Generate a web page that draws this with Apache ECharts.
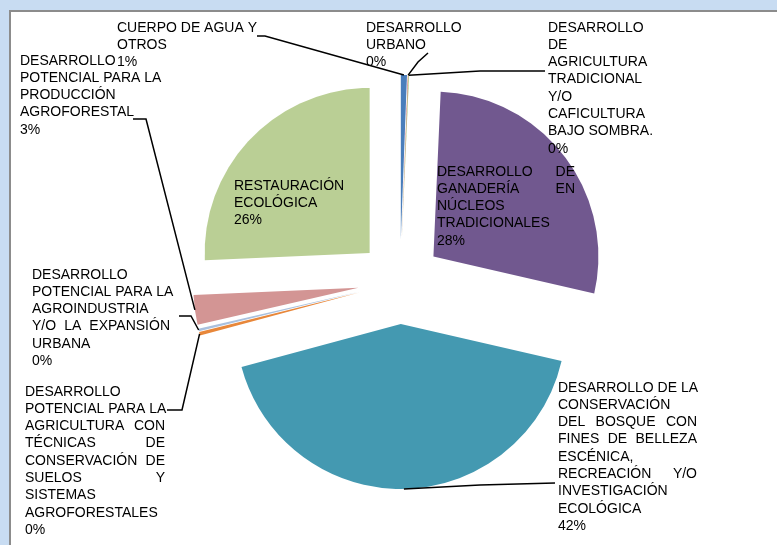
<!DOCTYPE html>
<html><head><meta charset="utf-8">
<script src="https://cdn.jsdelivr.net/npm/echarts@6/dist/echarts.min.js"></script>
<style>html,body{margin:0;padding:0;background:#C8DCF2;}#c{width:777px;height:545px;}</style>
</head><body><div id="c"></div>
<script>
// ---- data ----
const categories = [
  'CUERPO DE AGUA Y\nOTROS',
  'DESARROLLO\nURBANO',
  'DESARROLLO\nDE\nAGRICULTURA\nTRADICIONAL\nY/O\nCAFICULTURA\nBAJO SOMBRA.',
  'DESARROLLO DE\nGANADERÍA EN\nNÚCLEOS\nTRADICIONALES',
  'DESARROLLO DE LA\nCONSERVACIÓN\nDEL BOSQUE CON\nFINES DE BELLEZA\nESCÉNICA,\nRECREACIÓN Y/O\nINVESTIGACIÓN\nECOLÓGICA',
  'DESARROLLO\nPOTENCIAL PARA LA\nAGRICULTURA CON\nTÉCNICAS DE\nCONSERVACIÓN DE\nSUELOS Y\nSISTEMAS\nAGROFORESTALES',
  'DESARROLLO\nPOTENCIAL PARA LA\nAGROINDUSTRIA\nY/O LA EXPANSIÓN\nURBANA',
  'DESARROLLO\nPOTENCIAL PARA LA\nPRODUCCIÓN\nAGROFORESTAL',
  'RESTAURACIÓN\nECOLÓGICA'
];
const shares = [0.6, 0.05, 0.05, 27.9, 42.2, 0.35, 0.25, 2.9, 25.7];

// ---- styles / layout ----
const colors = ['#4A7EBB', '#BE4B48', '#98B954', '#71588F', '#4499B1', '#E8873A', '#A9C0DE', '#D39594', '#BACF95'];
const FONT = 'Liberation Sans';
const FS = 14, LH = 17.3;
const CENTER = [400, 282], RADIUS = 165, EXPLODE = 42;
// label box top-left and justify width
const labelPlaces = [[117,19],[366,19],[548,19],[437,163],[558,379],[25,383],[32,266],[20,52],[234,177]];
const justifyWidth = [0, 0, 0, 138, 139, 140, 138, 0, 0];
const leaderBends = [
  [[265,36],[257,36]],
  [[418,62],[428,53]],
  [[480,71],[545,71]],
  null,
  [[480,485],[555,483]],
  [[182,410],[167,410]],
  [[191,316],[179,316]],
  [[146,119],[133,119]],
  null
];

const ctx = document.createElement('canvas').getContext('2d');
ctx.font = FS + 'px "' + FONT + '"';
const rich = {};
const labelTexts = categories.map(function (name, i) {
  const lines = name.split('\n');
  return lines.map(function (line, j) {
    const words = line.split(' ');
    const W = justifyWidth[i];
    if (!W || words.length < 2) return line;
    let sum = 0;
    words.forEach(function (w) { sum += ctx.measureText(w).width; });
    const gap = Math.max(ctx.measureText(' ').width, (W - sum) / (words.length - 1));
    const key = 'g' + i + '_' + j;
    rich[key] = { width: gap, fontSize: FS, fontFamily: FONT, lineHeight: LH };
    return words.join('{' + key + '| }');
  }).join('\n');
});

const baseData = categories.map(function (c, i) { return { name: c, value: shares[i] }; });

const chart = echarts.init(document.getElementById('c'), null, { renderer: 'canvas' });
chart.setOption({
  backgroundColor: '#C8DCF2',
  animation: false,
  graphic: [{
    type: 'rect', silent: true, z: -10,
    shape: { x: 10, y: 11, width: 900, height: 700 },
    style: { fill: '#ffffff', stroke: '#8c8c8c', lineWidth: 2 }
  }],
  series: [{
    // exploded slices
    type: 'pie',
    center: CENTER, radius: RADIUS, startAngle: 90, clockwise: true,
    selectedMode: 'multiple', selectedOffset: EXPLODE,
    percentPrecision: 0,
    emphasis: { disabled: true },
    itemStyle: { borderWidth: 0 },
    select: { itemStyle: { borderWidth: 0 } },
    label: { show: false }, labelLine: { show: false },
    data: baseData.map(function (d, i) {
      return { name: d.name, value: d.value, selected: true, itemStyle: { color: colors[i] } };
    })
  }, {
    // labels + leader lines
    type: 'pie', silent: true, z: 3,
    center: CENTER, radius: RADIUS, startAngle: 90, clockwise: true,
    avoidLabelOverlap: false,
    percentPrecision: 0,
    emphasis: { disabled: true },
    itemStyle: { color: 'rgba(0,0,0,0)', borderWidth: 0 },
    label: {
      show: true, position: 'outside',
      fontFamily: FONT, fontSize: FS, lineHeight: LH, color: '#000',
      formatter: function (p) { return labelTexts[p.dataIndex] + '\n' + p.percent + '%'; },
      rich: rich
    },
    labelLine: { show: true, length: 10, length2: 10, smooth: false, lineStyle: { color: '#000', width: 1.5 } },
    labelLayout: function (p) {
      const i = p.dataIndex;
      const out = { x: labelPlaces[i][0], y: labelPlaces[i][1], align: 'left', verticalAlign: 'top', hideOverlap: false, moveOverlap: null };
      if (leaderBends[i] && p.labelLinePoints) {
        const p0 = p.labelLinePoints[0];
        const vx = p0[0] - CENTER[0], vy = p0[1] - CENTER[1];
        const len = Math.sqrt(vx * vx + vy * vy) || 1;
        const anchor = [p0[0] + vx / len * EXPLODE, p0[1] + vy / len * EXPLODE];
        out.labelLinePoints = [anchor].concat(leaderBends[i]);
      }
      return out;
    },
    data: baseData.map(function (d, i) {
      return { name: d.name, value: d.value, labelLine: { show: !!leaderBends[i] } };
    })
  }]
});
</script></body></html>
